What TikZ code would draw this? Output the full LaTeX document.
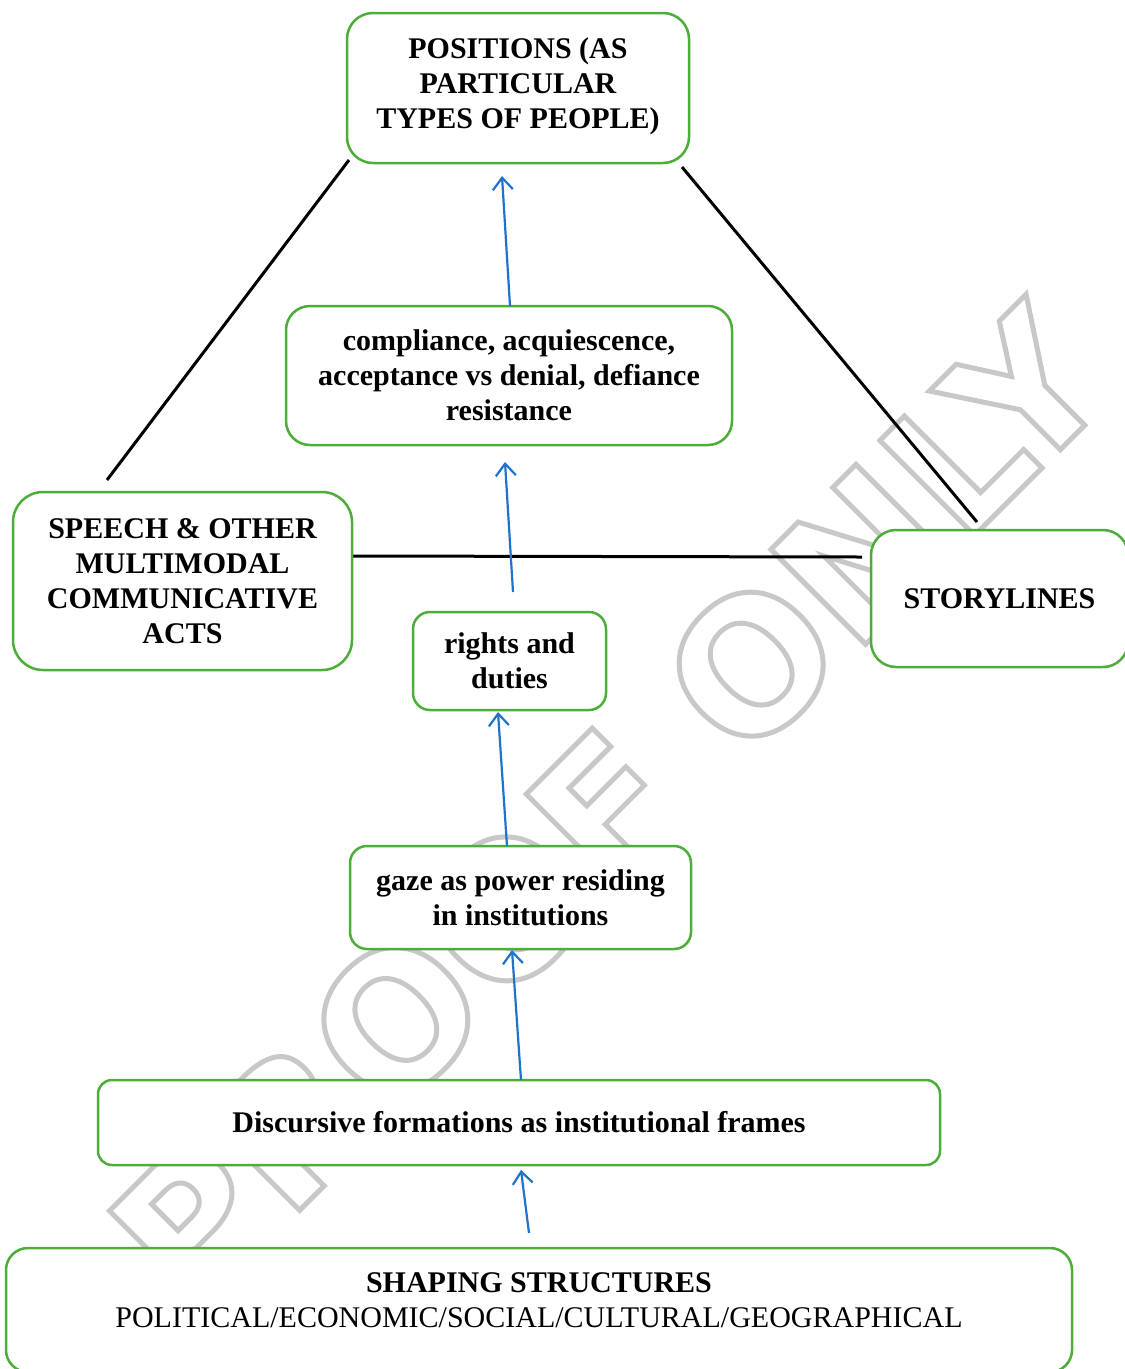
\documentclass[tikz,border=0pt]{standalone}
\usepackage{fontspec}
\setmainfont{Liberation Serif}
\newfontfamily\wmfont{DejaVu Sans}
\usetikzlibrary{arrows.meta}
\definecolor{boxgreen}{RGB}{76,173,56}
\definecolor{arrblue}{RGB}{31,115,204}
\definecolor{wmgray}{RGB}{200,200,200}
\begin{document}
\begin{tikzpicture}[x=1pt,y=-1pt,
  box/.style={draw=boxgreen, line width=2.5pt, fill=white, inner sep=0pt, outer sep=0pt, align=center, font=\bfseries\fontsize{30}{35}\selectfont},
  conn/.style={line width=3pt, draw=black},
  arr/.style={draw=arrblue, line width=2.2pt, -{Straight Barb[length=12pt,width=20pt,line width=2.2pt]}},
  wmark/.style={rotate=45, anchor=base, inner sep=0pt, text=wmgray, font=\wmfont\bfseries\fontsize{184}{184}\selectfont}]
\useasboundingbox (0,0) rectangle (1125,1369);
\fill[white] (0,0) rectangle (1125,1369);
% watermark
\node[wmark] (wm) at (656,854) {\special{pdf:literal direct 1 Tr 5 w 0.784 0.784 0.784 RG}PROOF ONLY\special{pdf:literal direct 0 Tr}};
% black connectors
\coordinate (l1a) at (349,160); \coordinate (l1b) at (107,480);
\coordinate (l2a) at (682,167); \coordinate (l2b) at (977,522);
\coordinate (l3a) at (352,556); \coordinate (l3b) at (862,557);
\draw[conn] (l1a) -- (l1b);
\draw[conn] (l2a) -- (l2b);
\draw[conn] (l3a) -- (l3b);
% boxes
\node[box, minimum width=342pt, minimum height=150pt, rounded corners=26pt] (pos) at (518,88) {POSITIONS (AS\\PARTICULAR\\TYPES OF PEOPLE)\rule[-10pt]{0pt}{10pt}};
\node[box, minimum width=446pt, minimum height=139pt, rounded corners=24pt] (comp) at (509,375.5) {compliance, acquiescence,\\acceptance vs denial, defiance\\resistance};
\node[box, minimum width=339pt, minimum height=178pt, rounded corners=30pt] (speech) at (182.5,581) {SPEECH \& OTHER\\MULTIMODAL\\COMMUNICATIVE\\ACTS};
\node[box, minimum width=257pt, minimum height=137pt, rounded corners=25pt] (story) at (999.5,598.5) {STORYLINES};
\node[box, minimum width=193pt, minimum height=98pt, rounded corners=17pt] (rights) at (509.5,661) {rights and\\duties};
\node[box, minimum width=341pt, minimum height=103pt, rounded corners=17pt] (gaze) at (520.5,897.5) {gaze as power residing\\in institutions};
\node[box, minimum width=842pt, minimum height=85pt, rounded corners=14pt] (disc) at (519,1122.5) {Discursive formations as institutional frames};
\node[box, minimum width=1066pt, minimum height=124pt, rounded corners=22pt] (shape) at (539,1310) {SHAPING STRUCTURES\\\mdseries POLITICAL/ECONOMIC/SOCIAL/CULTURAL/GEOGRAPHICAL\rule[-20pt]{0pt}{20pt}};
% blue arrows
\coordinate (a1s) at (510,306); \coordinate (a1e) at (502,176);
\coordinate (a2s) at (513,592); \coordinate (a2e) at (505,462);
\coordinate (a3s) at (507,846); \coordinate (a3e) at (498,712);
\coordinate (a4s) at (521,1080); \coordinate (a4e) at (512,950);
\coordinate (a5s) at (529,1233); \coordinate (a5e) at (521,1170);
\draw[arr] (a1s) -- (a1e);
\draw[arr] (a2s) -- (a2e);
\draw[arr] (a3s) -- (a3e);
\draw[arr] (a4s) -- (a4e);
\draw[arr] (a5s) -- (a5e);
\end{tikzpicture}
\end{document}
